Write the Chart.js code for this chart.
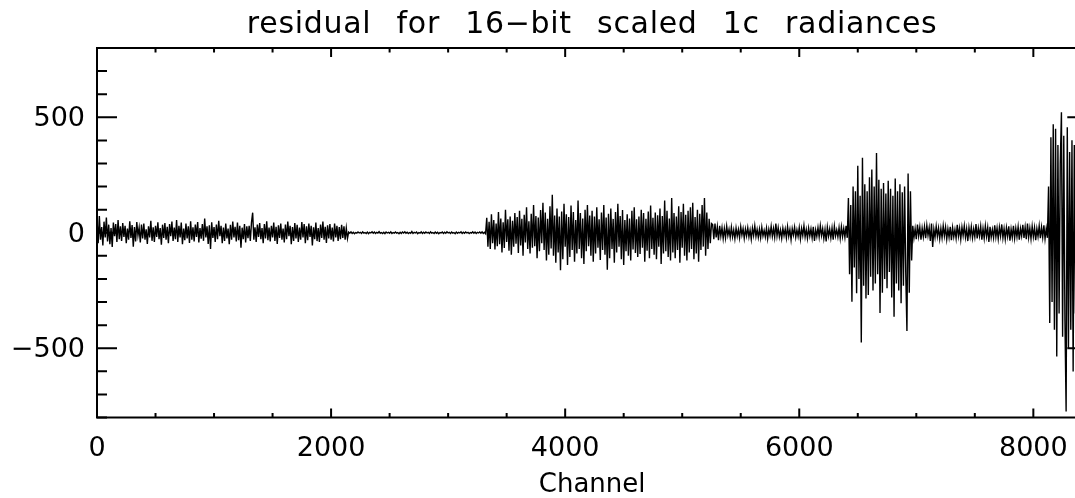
<!DOCTYPE html>
<html>
<head>
<meta charset="utf-8">
<script src="https://cdn.jsdelivr.net/npm/chart.js@4.4.1/dist/chart.umd.min.js"></script>
<style>
  html, body { margin: 0; padding: 0; background: #fff; overflow: hidden; }
  #wrap { width: 1120px; height: 498px; position: relative; }
</style>
</head>
<body>
<div id="wrap"><canvas id="residual-chart"></canvas></div>
<script>
// Residual per channel, every 10 channels, one array per band
const channelStep = 10;
const bandStarts = [0, 2150, 3330, 5260, 6420, 6970, 8130];

const band1 = [
    60, -45, 72, -30, 25, -55, 48, -20, 66, -38,
    35, -50, 20, -62, 44, -15, 38, -40, 55, -28,
    28, -35, 42, -18, 30, -45, 18, -30, 50, -22,
    33, -60, 25, -38, 46, -12, 22, -42, 36, -25,
    40, -30, 15, -48, 28, -20, 52, -35, 24, -40,
    30, -18, 45, -28, 20, -52, 35, -22, 42, -30,
    26, -45, 38, -15, 48, -35, 22, -28, 55, -40,
    30, -20, 44, -50, 18, -32, 40, -25, 28, -44,
    50, -30, 24, -38, 35, -18, 46, -42, 20, -26,
    38, -35, 62, -20, 28, -48, 32, -70, 45, -22,
    25, -40, 36, -28, 52, -15, 30, -45, 22, -35,
    40, -25, 18, -50, 34, -30, 48, -20, 26, -38,
    44, -32, 30, -65, 22, -28, 38, -42, 28, -24,
    30, -36, 45, 87, -30, 24, -40, 35, -18, 42,
    -28, 20, -45, 38, -25, 50, -32, 22, -38, 30,
    -20, 44, -35, 26, -48, 32, -22, 40, -30, 18,
    -42, 36, -28, 48, -15, 30, -50, 25, -35, 42,
    -25, 34, -40, 22, -30, 46, -20, 38, -45, 28,
    -32, 40, -18, 30, -55, 24, -28, 44, -36, 20,
    -40, 35, -22, 48, -30, 26, -44, 32, -25, 38,
    -30, 22, -38, 40, -20, 30, -35, 25, -28, 34,
    -22, 28, -30, 20, -25
];

const band2 = [
    3, -2, 4, -3, 2, -4, 1, -2, 3, -1,
    2, -3, 4, -2, 1, -3, 3, -4, 2, -1,
    4, -2, 3, -3, 2, -1, 5, -2, 1, -3,
    2, -4, 3, -1, 2, -2, 4, -3, 1, -2,
    3, -2, 1, -4, 2, -3, 3, -1, 4, -2,
    2, -3, 1, -2, 5, -3, 2, -1, 3, -4,
    1, -2, 4, -3, 2, -2, 3, -1, 2, -3,
    4, -2, 1, -3, 3, -2, 2, -4, 1, -1,
    3, -3, 2, -2, 4, -1, 2, -3, 3, -2,
    1, -4, 3, -2, 2, -1, 4, -3, 2, -2,
    3, -1, 2, -3, 1, -2, 4, -2, 3, -3,
    2, -1, 3, -2, 4, -3, 2, -4
];

const band3 = [
    65, -60, 48, -70, 80, -45, 55, -72, 40, -58,
    90, -50, 62, -85, 45, -66, 100, -40, 58, -78,
    70, -95, 52, -60, 85, -48, 68, -88, 95, -55,
    60, -100, 78, -42, 110, -70, 50, -90, 82, -65,
    120, -58, 72, -110, 66, -80, 98, -45, 130, -75,
    88, -120, 60, -95, 115, -68, 165, -100, 75, -130,
    105, -85, 70, -162, 92, -115, 125, -60, 80, -140,
    68, -105, 118, -75, 90, -125, 55, -90, 140, -70,
    85, -110, 62, -135, 100, -80, 120, -58, 75, -100,
    95, -125, 70, -90, 110, -65, 58, -118, 88, -75,
    120, -95, 66, -160, 82, -110, 105, -70, 60, -130,
    90, -85, 125, -60, 72, -115, 98, -140, 55, -80,
    80, -100, 62, -120, 95, -72, 110, -88, 58, -105,
    70, -92, 100, -65, 85, -125, 60, -78, 92, -110,
    118, -70, 65, -95, 88, -115, 76, -60, 105, -135,
    72, -90, 140, -80, 95, -105, 62, -120, 150, -85,
    85, -110, 70, -75, 115, -130, 90, -65, 125, -100,
    78, -120, 95, -85, 110, -70, 130, -115, 68, -90,
    100, -125, 82, -75, 120, -60, 150, -100, 88, -70,
    60, -45, 40
];

const band4 = [
    35, -28, 40, -20, 25, -32, 30, -15, 22, -25,
    18, -22, 28, -12, 15, -20, 24, -18, 12, -26,
    20, -15, 14, -22, 26, -10, 18, -24, 16, -14,
    22, -18, 12, -28, 20, -12, 30, -16, 14, -20,
    16, -22, 24, -14, 10, -18, 20, -25, 15, -12,
    28, -16, 18, -20, 40, -14, 22, -18, 12, -24,
    20, -12, 16, -22, 26, -15, 14, -30, 18, -10,
    24, -20, 12, -16, 22, -26, 18, -12, 30, -18,
    14, -24, 20, -14, 16, -22, 26, -35, 12, -16,
    22, -18, 30, -12, 18, -25, 14, -38, 24, -15,
    16, -22, 20, -30, 28, -14, 12, -18, 22, -24,
    26, -16, 18, -20, 30, -22
];

const band5 = [
    150, -180, 120, -299, 200, -150, 180, -262, 290, -200,
    160, -475, 325, -230, 210, -285, 180, -270, 240, -190,
    274, -250, 200, -220, 345, -180, 230, -348, 190, -260,
    215, -200, 170, -240, 225, -170, 190, -280, 160, -364,
    235, -220, 180, -250, 210, -305, 175, -230, 200, -180,
    -425, 257, -260, 180, -120
];

const band6 = [
    30, -22, 18, -28, 35, -15, 24, -30, 20, -18,
    26, -24, 32, -12, 22, -35, 40, -62, 15, -20,
    28, -16, 20, -26, 18, -22, 30, -14, 24, -28,
    16, -20, 26, -32, 22, -18, 14, -24, 34, -15,
    20, -28, 24, -12, 30, -20, 18, -36, 22, -16,
    26, -22, 16, -18, 38, -25, 20, -14, 28, -30,
    18, -24, 30, -16, 22, -40, 26, -20, 14, -22,
    32, -18, 20, -26, 24, -14, 36, -22, 18, -28,
    22, -16, 28, -34, 16, -20, 30, -24, 20, -18,
    26, -30, 18, -14, 34, -22, 24, -28, 40, -20,
    20, -26, 28, -18, 22, -32, 18, -16, 30, -24,
    24, -20, 32, -26, 18, -22
];

const band7 = [
    200, -391, 414, -300, 470, -420, 450, -536, 380, -350,
    300, 522, -450, 420, -380, -774, 457, -500, 350, -420,
    400, -601, 380, -350
];

const bandResiduals = [band1, band2, band3, band4, band5, band6, band7];

const xMajorTicks = [0, 2000, 4000, 6000, 8000];
const yMajorTicks = [-500, 0, 500];
const xMinorStep = 500;
const yMinorStep = 100;
const channelCount = 8461;

const titleText = 'residual for 16\u2212bit scaled 1c radiances';

document.addEventListener('DOMContentLoaded', () => {
    renderResidualChart();
});

function buildPoints() {
    const points = [];
    bandResiduals.forEach((band, b) => {
        band.forEach((value, i) => {
            points.push({ x: bandStarts[b] + i * channelStep, y: value });
        });
    });
    return points;
}

// IDL style box: frame plus inward ticks on all four sides
const boxPlugin = {
    id: 'idlBox',
    afterDatasetsDraw(chart) {
        const { ctx, chartArea: a } = chart;
        const xs = chart.scales.x;
        const ys = chart.scales.y;
        ctx.save();
        ctx.strokeStyle = '#000';
        ctx.lineWidth = 2;
        ctx.strokeRect(a.left, a.top, a.right - a.left, a.bottom - a.top);

        ctx.beginPath();
        for (let v = 0; v <= channelCount; v += xMinorStep) {
            const px = xs.getPixelForValue(v);
            const len = xMajorTicks.includes(v) ? 9 : 4.5;
            ctx.moveTo(px, a.bottom);
            ctx.lineTo(px, a.bottom - len);
            ctx.moveTo(px, a.top);
            ctx.lineTo(px, a.top + len);
        }
        for (let v = ys.min; v <= ys.max; v += yMinorStep) {
            const py = ys.getPixelForValue(v);
            const len = yMajorTicks.includes(v) ? 20 : 10;
            ctx.moveTo(a.left, py);
            ctx.lineTo(a.left + len, py);
            ctx.moveTo(a.right, py);
            ctx.lineTo(a.right - len, py);
        }
        ctx.stroke();
        ctx.restore();
    },
    afterDraw(chart) {
        const { ctx, chartArea: a } = chart;
        ctx.save();
        ctx.fillStyle = '#000';
        ctx.font = '30px "DejaVu Sans"';
        ctx.letterSpacing = '0.7px';
        ctx.wordSpacing = '15px';
        ctx.textAlign = 'center';
        ctx.textBaseline = 'alphabetic';
        ctx.fillText(titleText, (a.left + a.right) / 2, 33);
        ctx.restore();
    }
};

function renderResidualChart() {
    const ctx = document.getElementById('residual-chart');
    const tickFont = { family: 'DejaVu Sans', size: 27 };

    new Chart(ctx, {
        type: 'line',
        data: {
            datasets: [{
                data: buildPoints(),
                borderColor: '#000',
                borderWidth: 1.4,
                pointRadius: 0,
                fill: false,
                tension: 0
            }]
        },
        options: {
            responsive: true,
            maintainAspectRatio: false,
            animation: false,
            parsing: false,
            events: [],
            layout: {
                padding: { left: 0, right: 32.7, top: 48, bottom: 0 }
            },
            plugins: {
                legend: { display: false },
                tooltip: { enabled: false }
            },
            scales: {
                x: {
                    type: 'linear',
                    min: 0,
                    max: channelCount,
                    grid: { display: false, drawTicks: false },
                    border: { display: false },
                    afterBuildTicks: (scale) => {
                        scale.ticks = xMajorTicks.map(v => ({ value: v }));
                    },
                    afterFit: (scale) => { scale.height = 80.5; },
                    ticks: {
                        color: '#000',
                        font: tickFont,
                        padding: 15,
                        maxRotation: 0,
                        autoSkip: false,
                        callback: (v) => String(v)
                    },
                    title: {
                        display: true,
                        text: 'Channel',
                        color: '#000',
                        font: { family: 'DejaVu Sans', size: 26, lineHeight: 1 },
                        padding: 0
                    }
                },
                y: {
                    min: -800,
                    max: 800,
                    grid: { display: false, drawTicks: false },
                    border: { display: false },
                    afterBuildTicks: (scale) => {
                        scale.ticks = yMajorTicks.map(v => ({ value: v }));
                    },
                    afterFit: (scale) => { scale.width = 97; },
                    ticks: {
                        color: '#000',
                        font: tickFont,
                        padding: 12,
                        labelOffset: 2,
                        callback: (v) => String(v).replace('-', '\u2212')
                    }
                }
            }
        },
        plugins: [boxPlugin]
    });
}
</script>
</body>
</html>
